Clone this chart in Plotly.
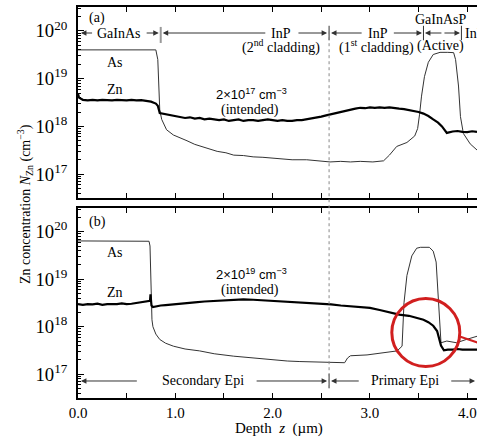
import plotly.graph_objects as go

# ---------------- panel (a): 2x10^17 cm^-3 intended ----------------
depth_as_a = [0.00, 0.20, 0.40, 0.60, 0.80, 0.82, 0.83, 0.84, 0.86, 0.91, 0.98, 1.05,
              1.12, 1.20, 1.25, 1.35, 1.43, 1.52, 1.60, 1.70, 1.80, 1.90, 2.00, 2.10,
              2.20, 2.35, 2.45, 2.59, 2.70, 2.80, 2.90, 3.03, 3.14, 3.20, 3.275, 3.38,
              3.46, 3.49, 3.51, 3.53, 3.56, 3.60, 3.65, 3.72, 3.80, 3.86, 3.88, 3.91,
              3.93, 3.96, 4.03, 4.10]
conc_as_a = [4.0e19, 4.0e19, 4.0e19, 4.0e19, 4.0e19, 2.5e19, 6.3e18, 2.2e18, 1.4e18, 8.5e17, 6.6e17, 5.8e17,
             5.0e17, 4.2e17, 3.9e17, 3.3e17, 3.0e17, 2.8e17, 2.5e17, 2.45e17, 2.3e17, 2.25e17, 2.15e17, 2.1e17,
             2.0e17, 2.0e17, 1.9e17, 1.8e17, 1.85e17, 1.8e17, 1.85e17, 1.8e17, 1.9e17, 2.5e17, 3.8e17, 4.6e17,
             6.3e17, 9.0e17, 1.8e18, 4.3e18, 1.1e19, 2.2e19, 3.2e19, 3.55e19, 3.55e19, 3.5e19, 2.5e19, 7.0e18,
             1.6e18, 7.1e17, 4.3e17, 3.2e17]

depth_zn_a = [0.00, 0.01, 0.05, 0.10, 0.15, 0.20, 0.25, 0.30, 0.35, 0.40, 0.45, 0.50,
              0.55, 0.60, 0.65, 0.70, 0.75, 0.80, 0.82, 0.84, 0.90, 0.95, 1.00, 1.05,
              1.10, 1.15, 1.20, 1.25, 1.30, 1.35, 1.40, 1.45, 1.50, 1.55, 1.60, 1.65,
              1.70, 1.75, 1.80, 1.85, 1.90, 1.95, 2.00, 2.05, 2.10, 2.15, 2.20, 2.25,
              2.30, 2.35, 2.40, 2.45, 2.50, 2.55, 2.60, 2.65, 2.70, 2.75, 2.80, 2.85,
              2.90, 2.95, 3.00, 3.05, 3.10, 3.15, 3.20, 3.25, 3.30, 3.35, 3.40, 3.45,
              3.50, 3.55, 3.60, 3.65, 3.70, 3.74, 3.79, 3.85, 3.90, 3.95, 4.00, 4.05,
              4.10]
conc_zn_a = [4.8e18, 4.0e18, 3.6e18, 3.5e18, 3.6e18, 3.5e18, 3.6e18, 3.55e18, 3.5e18, 3.6e18, 3.55e18, 3.5e18,
             3.6e18, 3.5e18, 3.55e18, 3.45e18, 3.3e18, 3.0e18, 2.7e18, 1.9e18, 1.8e18, 1.75e18, 1.65e18, 1.6e18,
             1.5e18, 1.55e18, 1.45e18, 1.5e18, 1.4e18, 1.45e18, 1.4e18, 1.35e18, 1.4e18, 1.3e18, 1.35e18, 1.4e18,
             1.3e18, 1.35e18, 1.35e18, 1.3e18, 1.35e18, 1.4e18, 1.35e18, 1.3e18, 1.35e18, 1.3e18, 1.3e18, 1.35e18,
             1.35e18, 1.4e18, 1.45e18, 1.55e18, 1.6e18, 1.7e18, 1.8e18, 1.9e18, 2.0e18, 2.15e18, 2.2e18, 2.35e18,
             2.45e18, 2.4e18, 2.5e18, 2.45e18, 2.5e18, 2.45e18, 2.5e18, 2.4e18, 2.35e18, 2.3e18, 2.2e18, 2.15e18,
             2.0e18, 1.85e18, 1.65e18, 1.4e18, 1.2e18, 1.0e18, 7.3e17, 7.8e17, 8.0e17, 7.7e17, 7.6e17, 7.9e17,
             7.7e17]

# ---------------- panel (b): 2x10^19 cm^-3 intended ----------------
depth_as_b = [0.00, 0.20, 0.40, 0.60, 0.73, 0.74, 0.745, 0.75, 0.76, 0.77, 0.80, 0.84,
              0.90, 0.98, 1.10, 1.25, 1.40, 1.60, 1.80, 2.00, 2.15, 2.28, 2.45, 2.59,
              2.74, 2.77, 2.80, 2.97, 3.15, 3.28, 3.33, 3.35, 3.38, 3.43, 3.48, 3.52,
              3.61, 3.65, 3.68, 3.695, 3.71, 3.73, 3.79, 3.89, 3.99, 4.10]
conc_as_b = [6.4e19, 6.4e19, 6.4e19, 6.4e19, 6.3e19, 5.0e19, 1.5e19, 3.0e18, 1.4e18, 1.0e18, 7.0e17, 5.4e17,
             4.5e17, 3.9e17, 3.4e17, 3.1e17, 2.7e17, 2.4e17, 2.2e17, 2.0e17, 1.9e17, 1.85e17, 1.8e17, 1.75e17,
             1.75e17, 2.2e17, 2.45e17, 2.55e17, 2.8e17, 3.1e17, 3.9e17, 3.2e18, 1.2e19, 3.1e19, 4.5e19, 4.7e19,
             4.7e19, 3.9e19, 2.3e19, 7.2e18, 1.4e18, 4.6e17, 5.0e17, 4.6e17, 5.4e17, 6.3e17]

depth_zn_b = [0.00, 0.05, 0.10, 0.15, 0.20, 0.25, 0.30, 0.35, 0.40, 0.45, 0.50, 0.55,
              0.60, 0.65, 0.70, 0.74, 0.745, 0.755, 0.77, 0.80, 0.85, 0.90, 0.95, 1.00,
              1.10, 1.20, 1.30, 1.40, 1.50, 1.60, 1.70, 1.80, 1.90, 2.00, 2.10, 2.20,
              2.30, 2.40, 2.50, 2.60, 2.70, 2.80, 2.90, 3.00, 3.10, 3.20, 3.30, 3.40,
              3.50, 3.55, 3.60, 3.65, 3.69, 3.71, 3.73, 3.76, 3.80, 3.85, 3.90, 3.95,
              4.00, 4.05, 4.10]
conc_zn_b = [3.0e18, 2.9e18, 3.0e18, 2.95e18, 3.05e18, 2.9e18, 3.0e18, 2.95e18, 3.0e18, 3.1e18, 3.0e18, 3.05e18,
             3.15e18, 3.2e18, 3.3e18, 3.5e18, 4.8e18, 2.8e18, 2.6e18, 2.7e18, 2.8e18, 2.85e18, 2.9e18, 3.0e18,
             3.1e18, 3.25e18, 3.4e18, 3.5e18, 3.6e18, 3.7e18, 3.75e18, 3.7e18, 3.6e18, 3.55e18, 3.5e18, 3.4e18,
             3.3e18, 3.2e18, 3.1e18, 2.95e18, 2.8e18, 2.7e18, 2.6e18, 2.5e18, 2.25e18, 2.0e18, 1.8e18, 1.7e18,
             1.5e18, 1.4e18, 1.25e18, 1.05e18, 8.1e17, 6.0e17, 4.0e17, 3.2e17, 3.3e17, 3.3e17, 3.4e17, 3.3e17,
             3.3e17, 3.4e17, 3.3e17]

# layer boundaries (µm)
boundary_active = [3.55, 3.94]
boundary_epi = 2.58
boundary_contact = 0.85

SERIF = "Liberation Serif"
SANS = "Liberation Sans"

fig = go.Figure()
fig.add_trace(go.Scatter(x=depth_as_a, y=conc_as_a, mode="lines",
                         line=dict(color="#333333", width=1), xaxis="x", yaxis="y"))
fig.add_trace(go.Scatter(x=depth_zn_a, y=conc_zn_a, mode="lines",
                         line=dict(color="black", width=2.2), xaxis="x", yaxis="y"))
fig.add_trace(go.Scatter(x=depth_as_b, y=conc_as_b, mode="lines",
                         line=dict(color="#333333", width=1), xaxis="x2", yaxis="y2"))
fig.add_trace(go.Scatter(x=depth_zn_b, y=conc_zn_b, mode="lines",
                         line=dict(color="black", width=2.2), xaxis="x2", yaxis="y2"))

xcommon = dict(range=[0, 4.1], showline=True, linecolor="black", linewidth=1.5,
               mirror="ticks", ticks="inside", ticklen=5, tickcolor="black",
               dtick=1, tick0=0, tickformat=".1f", showgrid=False, zeroline=False,
               minor=dict(ticks="inside", dtick=0.5, ticklen=5, tickcolor="black"),
               tickfont=dict(family=SERIF, size=15, color="black"))
ycommon = dict(type="log", range=[16.5, 20.5], showline=True, linecolor="black", linewidth=1.5,
               mirror=False, ticks="inside", ticklen=6, tickcolor="black", dtick=1,
               exponentformat="power", showexponent="all", showgrid=False, zeroline=False,
               minor=dict(ticks="inside", ticklen=3, dtick="D1", tickcolor="black"),
               ticklabelstandoff=6,
               tickfont=dict(family=SERIF, size=15, color="black"))

fig.update_layout(
    width=477, height=439,
    margin=dict(l=78, r=0, t=7, b=41),
    paper_bgcolor="white", plot_bgcolor="white",
    showlegend=False,
    xaxis=dict(xcommon, anchor="y", showticklabels=False),
    yaxis=dict(ycommon, domain=[0.5115, 1.0], anchor="x"),
    xaxis2=dict(xcommon, anchor="y2", matches="x"),
    yaxis2=dict(ycommon, domain=[0.0, 0.486], anchor="x2"),
)

ann = []
shapes = []


def label(text, x, y, xref="x", size=14, family=SERIF, xanchor="center"):
    ann.append(dict(text=text, x=x, y=y, xref=xref, yref="paper", showarrow=False,
                    xanchor=xanchor, yanchor="middle",
                    font=dict(family=family, size=size, color="black")))


def arrow(tip, tail, y, xref="x"):
    ann.append(dict(text="", x=tip, y=y, ax=tail, ay=0, xref=xref, yref="paper",
                    axref=xref, ayref="pixel", showarrow=True, arrowhead=2,
                    arrowsize=1.1, arrowwidth=1, arrowcolor="#333333"))


def bar(x, y0, y1, xref="x", color="#333333", width=1):
    shapes.append(dict(type="line", xref=xref, yref="paper", x0=x, x1=x, y0=y0, y1=y1,
                       line=dict(color=color, width=width)))


# panel (a) layer annotations
row_a = 0.9335
label("(a)", 0.2, 0.972)
label("GaInAs", 0.42, row_a)
arrow(0.03, 0.16, row_a)
arrow(0.83, 0.69, row_a)
bar(boundary_contact, 0.908, 0.949, color="#999999", width=2)
label("InP", 2.09, row_a)
label("(2<sup>nd</sup> cladding)", 2.09, 0.898)
arrow(0.87, 1.94, row_a)
arrow(2.56, 2.25, row_a)
bar(boundary_epi, 0.915, 0.952)
label("InP", 3.08, row_a)
label("(1<sup>st</sup> cladding)", 3.07, 0.898)
arrow(2.60, 2.93, row_a)
arrow(3.535, 3.23, row_a)
bar(boundary_active[0], 0.915, 0.952)
label("GaInAsP", 3.73, 0.969)
label("(Active)", 3.73, 0.900)
arrow(3.565, 3.75, row_a)
arrow(3.925, 3.75, row_a)
bar(boundary_active[1], 0.915, 0.952)
label("InP", 3.955, row_a, xanchor="left")
label("As", 0.38, 0.857)
label("Zn", 0.38, 0.790)
label("2×10<sup>17</sup> cm<sup>−3</sup>", 1.78, 0.778, family=SANS, size=13)
label("(intended)", 1.77, 0.737)

# panel (b) annotations
row_b = 0.0435
label("(b)", 0.2, 0.450)
label("As", 0.38, 0.373)
label("Zn", 0.38, 0.271)
label("2×10<sup>19</sup> cm<sup>−3</sup>", 1.78, 0.318, xref="x2", family=SANS, size=13)
label("(intended)", 1.77, 0.276, xref="x2")
label("Secondary Epi", 1.28, row_b, xref="x2")
arrow(0.03, 0.62, row_b, xref="x2")
arrow(2.56, 1.82, row_b, xref="x2")
bar(boundary_epi, 0.025, 0.062, xref="x2")
label("Primary Epi", 3.36, row_b, xref="x2")
arrow(2.60, 2.90, row_b, xref="x2")
arrow(4.08, 3.82, row_b, xref="x2")

# dotted separation between secondary and primary epi
shapes.append(dict(type="line", xref="x", yref="paper", x0=boundary_epi, x1=boundary_epi,
                   y0=0.025, y1=0.945, line=dict(color="#888888", width=1, dash="dot")))

# highlight around the Zn drop at the active layer
shapes.append(dict(type="circle", xref="paper", yref="paper",
                   x0=0.7865, x1=0.9569, y0=0.0805, y1=0.2545,
                   line=dict(color="#d11f1f", width=3)))
shapes.append(dict(type="line", xref="paper", yref="paper",
                   x0=0.953, y0=0.1586, x1=1.05, y1=0.125,
                   line=dict(color="#d11f1f", width=2)))

# axis titles
ann.append(dict(text="Zn concentration <i>N</i><sub>Zn</sub> (cm<sup>−3</sup>)",
                x=-0.133, y=0.496, xref="paper", yref="paper", showarrow=False,
                textangle=-90, xanchor="center", yanchor="middle",
                font=dict(family=SERIF, size=14, color="black")))
ann.append(dict(text="Depth  <i>z</i>  (µm)", x=0.505, y=-0.077, xref="paper", yref="paper",
                showarrow=False, xanchor="center", yanchor="middle",
                font=dict(family=SERIF, size=15, color="black")))

fig.update_layout(annotations=ann, shapes=shapes)
fig.write_html("out.html")
